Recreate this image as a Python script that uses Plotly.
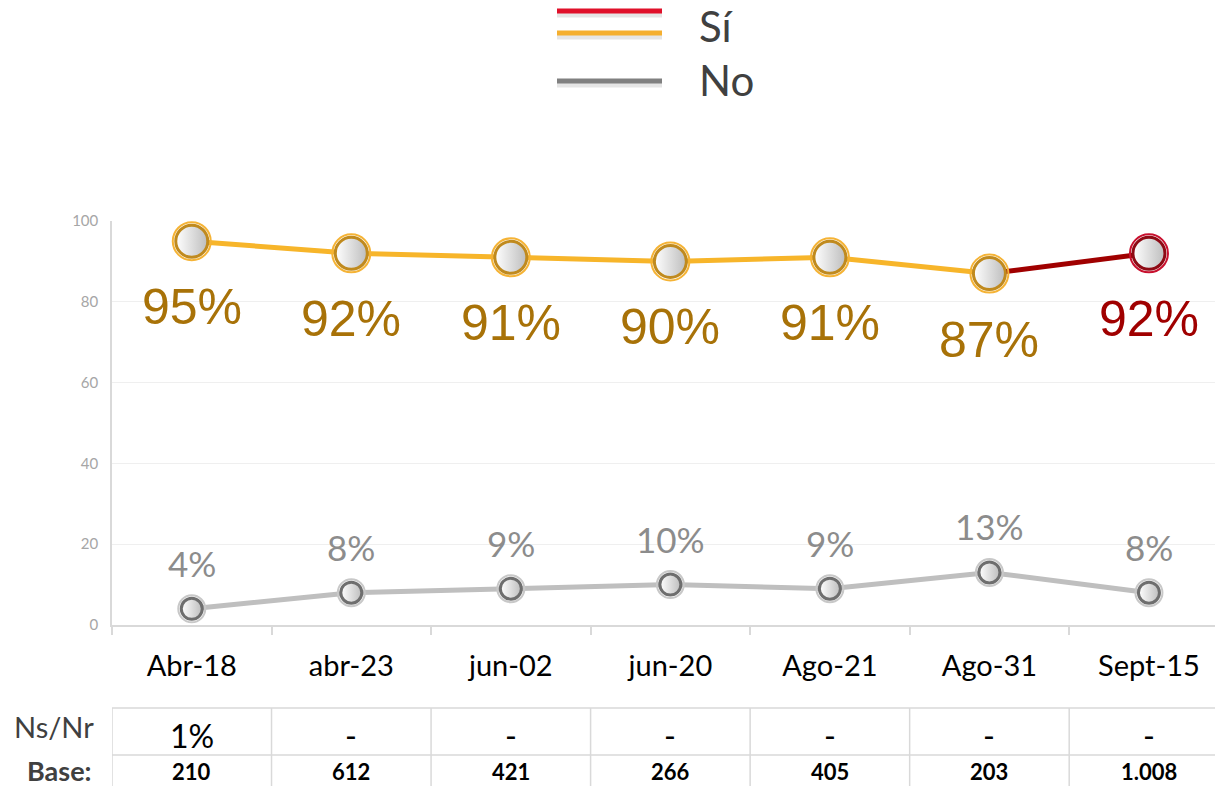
import plotly.graph_objects as go

# Survey waves and results
categories = ["Abr-18", "abr-23", "jun-02", "jun-20", "Ago-21", "Ago-31", "Sept-15"]
si_values = [95, 92, 91, 90, 91, 87, 92]
no_values = [4, 8, 9, 10, 9, 13, 8]
nsnr_labels = ["1%", "-", "-", "-", "-", "-", "-"]
base_labels = ["210", "612", "421", "266", "405", "203", "1.008"]

# Plot area geometry in pixels (used to place paper-referenced extras)
TOP, BOTTOM, LEFT, WIDTH = 221, 625, 112, 1103
H = BOTTOM - TOP


def py(p):
    return (BOTTOM - p) / H


def px(p):
    return (p - LEFT) / WIDTH


SI_GOLD = "#F7B52A"
SI_RED = "#A00000"
SI_TEXT = "#A87208"
NO_LINE = "#BFBFBF"
NO_TEXT = "#8C8C8C"

n = len(categories)
last = n - 1

fig = go.Figure()

# "No" series line
fig.add_trace(go.Scatter(
    x=categories, y=no_values, mode="lines",
    line=dict(color=NO_LINE, width=5), hoverinfo="skip", showlegend=False,
))
# "Sí" series: gold up to the penultimate wave, dark red for the last segment
fig.add_trace(go.Scatter(
    x=categories[:last], y=si_values[:last], mode="lines",
    line=dict(color=SI_GOLD, width=5), hoverinfo="skip", showlegend=False,
))
fig.add_trace(go.Scatter(
    x=categories[last - 1:], y=si_values[last - 1:], mode="lines",
    line=dict(color=SI_RED, width=5), hoverinfo="skip", showlegend=False,
))

# Markers: outer ring + inner ring with shaded fill
def ring_markers(xs, ys, outer_col, inner_col, size):
    fig.add_trace(go.Scatter(
        x=xs, y=ys, mode="markers", cliponaxis=False, hoverinfo="skip", showlegend=False,
        marker=dict(size=size, color="rgba(0,0,0,0)", line=dict(color=outer_col, width=2)),
    ))
    fig.add_trace(go.Scatter(
        x=xs, y=ys, mode="markers", cliponaxis=False, showlegend=False,
        marker=dict(size=size - 6, color="#ffffff",
                    gradient=dict(type="horizontal", color="#bdbdbd"),
                    line=dict(color=inner_col, width=3)),
    ))


ring_markers(categories, no_values, "#c8c8c8", "#6e6e6e", 27)
ring_markers(categories[:last], si_values[:last], "#F5B335", "#C08A1E", 38)
ring_markers(categories[last:], si_values[last:], "#C8102E", "#8E0A14", 38)

annotations = []
# Value labels
for i, (c, v) in enumerate(zip(categories, si_values)):
    annotations.append(dict(
        x=c, y=v, xref="x", yref="y", text=f"{v}%", showarrow=False, yshift=-66,
        yanchor="middle",
        font=dict(family="Liberation Sans", size=50, color=SI_RED if i == last else SI_TEXT),
    ))
for c, v in zip(categories, no_values):
    annotations.append(dict(
        x=c, y=v, xref="x", yref="y", text=f"{v}%", showarrow=False, yshift=46,
        yanchor="middle",
        font=dict(family="Lato", size=35, color=NO_TEXT),
    ))

# Table under the chart
for c, a, b in zip(categories, nsnr_labels, base_labels):
    annotations.append(dict(x=c, y=py(735), xref="x", yref="paper", text=a, showarrow=False,
                            yanchor="middle",
                            font=dict(family="Lato", size=32, color="#000000")))
    annotations.append(dict(x=c, y=py(771), xref="x", yref="paper", text=f"<b>{b}</b>",
                            showarrow=False, yanchor="middle",
                            font=dict(family="Lato", size=22, color="#000000")))
annotations.append(dict(x=px(96), y=py(726), xref="paper", yref="paper", text="Ns/Nr",
                        xanchor="right", yanchor="middle", showarrow=False,
                        font=dict(family="Lato", size=29, color="#404040")))
annotations.append(dict(x=px(94), y=py(770), xref="paper", yref="paper", text="<b>Base:</b>",
                        xanchor="right", yanchor="middle", showarrow=False,
                        font=dict(family="Lato", size=27, color="#404040")))

# Legend text
annotations.append(dict(x=px(697), y=py(26), xref="paper", yref="paper", text="Sí",
                        xanchor="left", yanchor="middle", showarrow=False,
                        font=dict(family="Lato", size=42, color="#404040")))
annotations.append(dict(x=px(697), y=py(80), xref="paper", yref="paper", text="No",
                        xanchor="left", yanchor="middle", showarrow=False,
                        font=dict(family="Lato", size=42, color="#404040")))

shapes = []
# Legend swatches with soft shadow
for yy, col in [(11, "#E0102A"), (33, "#F5AF2F"), (81, "#808080")]:
    shapes.append(dict(type="line", xref="paper", yref="paper",
                       x0=px(557), x1=px(662), y0=py(yy + 4), y1=py(yy + 4),
                       line=dict(color="rgba(0,0,0,0.10)", width=5)))
    shapes.append(dict(type="line", xref="paper", yref="paper",
                       x0=px(557), x1=px(662), y0=py(yy), y1=py(yy),
                       line=dict(color=col, width=5)))

# Table grid
for yy in (708, 755):
    shapes.append(dict(type="line", xref="paper", yref="paper", x0=0, x1=1,
                       y0=py(yy), y1=py(yy), line=dict(color="#d9d9d9", width=1.5)))
for k in range(n):
    shapes.append(dict(type="line", xref="x", yref="paper", x0=k - 0.5, x1=k - 0.5,
                       y0=py(708), y1=py(790), line=dict(color="#d9d9d9", width=1.5)))

fig.update_layout(
    width=1215, height=786,
    margin=dict(l=LEFT, r=0, t=TOP, b=786 - BOTTOM),
    paper_bgcolor="white", plot_bgcolor="white",
    annotations=annotations, shapes=shapes,
    showlegend=False,
)
fig.update_xaxes(
    type="category", range=[-0.5, 6.414],
    showline=True, linecolor="#d9d9d9", linewidth=1.5,
    showgrid=False, tickson="boundaries", ticks="outside", ticklen=8,
    tickcolor="#d9d9d9", tickwidth=1.5, ticklabelstandoff=14,
    tickfont=dict(family="Lato", size=29, color="#000000"),
)
fig.update_yaxes(
    range=[0, 100], tickvals=[0, 20, 40, 60, 80, 100],
    showline=True, linecolor="#d9d9d9", linewidth=1.5,
    showgrid=True, gridcolor="#efefef", gridwidth=1, zeroline=False,
    ticks="", ticklabelstandoff=9,
    tickfont=dict(family="Lato", size=15, color="#a6a6a6"),
)

fig.write_html("out.html")
